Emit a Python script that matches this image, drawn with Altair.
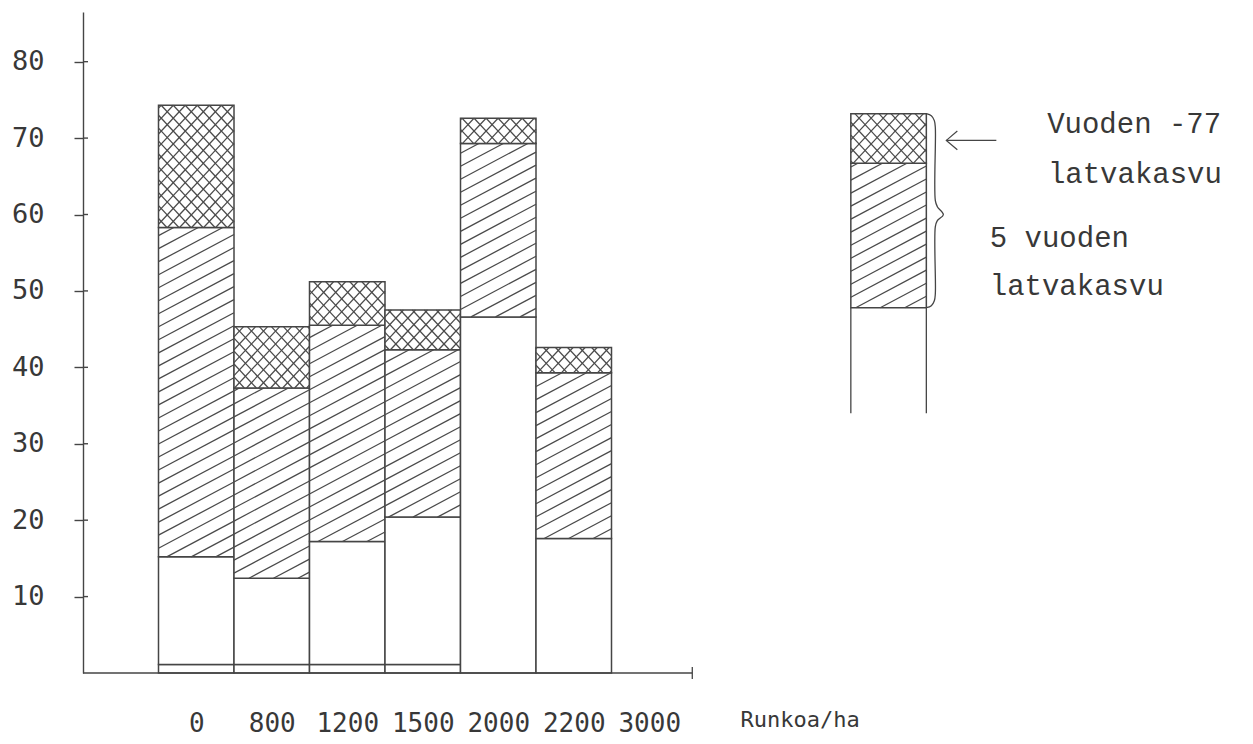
import math
import altair as alt
import pandas as pd

# ---------------- data ----------------
densities = ["0", "800", "1200", "1500", "2000", "2200", "3000"]
base_line = [1.1, 1.1, 1.1, 1.1, 0.0, 0.0, None]
open_top = [15.2, 12.4, 17.2, 20.4, 46.6, 17.6, None]
five_year_top = [58.3, 37.3, 45.5, 42.3, 69.3, 39.3, None]
total_top = [74.3, 45.3, 51.2, 47.5, 72.6, 42.6, None]
y_tick_values = [10, 20, 30, 40, 50, 60, 70, 80]
legend_levels = [34.0, 47.8, 66.7, 73.2]
legend_texts = ["Vuoden -77", "latvakasvu", "5 vuoden", "latvakasvu"]
x_title = "Runkoa/ha"

# ---------------- layout ----------------
W, H = 1160, 661
STEP = 75.5            # px per slot
YMAX = 86.5
XMAX = W / STEP
PYU = H / YMAX         # px per y unit
FIRST = 1.0            # first bar slot
AXIS_END = 8.07
LEG_X = 10.17
text_x = [12.77, 12.78, 12.01, 12.01]
text_y = [70.7, 64.1, 55.8, 49.5]
ARROW_Y = 69.7

LINE = "#454545"
TEXT = "#383838"
MONO = "DejaVu Sans Mono"
TYPE = "Liberation Mono"


def hatch(x0, x1, y0, y1, angle, spacing):
    X0, X1, Y0, Y1 = x0 * STEP, x1 * STEP, y0 * PYU, y1 * PYU
    th = math.radians(angle)
    dx, dy = math.cos(th), math.sin(th)
    nx, ny = -dy, dx
    cs = [X * nx + Y * ny for X in (X0, X1) for Y in (Y0, Y1)]
    out = []
    k = math.ceil(min(cs) / spacing - 0.5)
    while (k + 0.5) * spacing <= max(cs):
        c = (k + 0.5) * spacing
        bx, by = c * nx, c * ny
        lo, hi = -1e9, 1e9
        for b, d, a0, a1 in ((bx, dx, X0, X1), (by, dy, Y0, Y1)):
            if abs(d) > 1e-9:
                t1, t2 = (a0 - b) / d, (a1 - b) / d
                lo, hi = max(lo, min(t1, t2)), min(hi, max(t1, t2))
        if hi - lo > 1.0:
            out.append({"x": (bx + lo * dx) / STEP, "x2": (bx + hi * dx) / STEP,
                        "y": (by + lo * dy) / PYU, "y2": (by + hi * dy) / PYU})
        k += 1
    return out


rects, lines = [], []


def add_segment(x0, lo, hi, kind):
    rects.append({"x": x0, "x2": x0 + 1, "y": lo, "y2": hi, "kind": kind})
    if kind == "hatch":
        lines.extend(hatch(x0, x0 + 1, lo, hi, 28, 11.5))
    elif kind == "cross":
        lines.extend(hatch(x0, x0 + 1, lo, hi, 47, 8.8))
        lines.extend(hatch(x0, x0 + 1, lo, hi, 133, 8.8))


for i, cat in enumerate(densities):
    if total_top[i] is None:
        continue
    x0 = FIRST + i
    lv = [0.0, base_line[i], open_top[i], five_year_top[i], total_top[i]]
    kinds = ["stem", "open", "hatch", "cross"]
    for k in range(4):
        if lv[k + 1] > lv[k]:
            add_segment(x0, lv[k], lv[k + 1], kinds[k])

# legend bar
add_segment(LEG_X, legend_levels[1], legend_levels[2], "hatch")
add_segment(LEG_X, legend_levels[2], legend_levels[3], "cross")
legend_sides = pd.DataFrame([
    {"x": LEG_X, "y": legend_levels[0], "y2": legend_levels[1]},
    {"x": LEG_X + 1, "y": legend_levels[0], "y2": legend_levels[1]},
])

rect_df = pd.DataFrame(rects)
hatch_df = pd.DataFrame(lines)

xscale = alt.Scale(domain=[0, XMAX], nice=False, zero=False)
yscale = alt.Scale(domain=[0, YMAX], nice=False, zero=False)

label_expr = "[" + ",".join("'%s'" % d for d in densities) + "][round(datum.value - %s)]" % (FIRST + 0.5)

x_axis = alt.Axis(
    values=[FIRST + i + 0.5 for i in range(len(densities))],
    labelExpr=label_expr, domain=False, ticks=False, tickSize=0, grid=False,
    labelFont=MONO, labelFontSize=26, labelColor=TEXT, labelPadding=37,
    labelFlush=False, labelOverlap=False,
    title=x_title, titleX=657, titleY=53, titleAlign="left", titleBaseline="alphabetic",
    titleFont=MONO, titleFontSize=22, titleFontWeight="normal", titleColor=TEXT,
)
y_axis = alt.Axis(
    values=y_tick_values, title="", grid=False, tickSize=9, tickColor=LINE, tickWidth=1.4,
    domainColor=LINE, domainWidth=1.4, labelFont=MONO, labelFontSize=27,
    labelColor=TEXT, labelPadding=30,
)

X = alt.X("x:Q", scale=xscale)
Y = alt.Y("y:Q", scale=yscale)

bars = alt.Chart(rect_df).mark_rect(fill="white", stroke=LINE, strokeWidth=1.5).encode(
    x=alt.X("x:Q", scale=xscale, axis=x_axis),
    x2="x2:Q",
    y=alt.Y("y:Q", scale=yscale, axis=y_axis),
    y2="y2:Q",
)

hatches = alt.Chart(hatch_df).mark_rule(color="#4a4a4a", strokeWidth=1.25).encode(
    x=X, x2="x2:Q", y=Y, y2="y2:Q",
)

axis_line = alt.Chart(pd.DataFrame([{"x": 0.0, "x2": AXIS_END, "y": 0.0}])).mark_rule(
    color=LINE, strokeWidth=1.5).encode(x=X, x2="x2:Q", y=Y)
axis_end_tick = alt.Chart(pd.DataFrame([{"x": AXIS_END}])).mark_rule(
    color=LINE, strokeWidth=1.3).encode(x=X, y=alt.value(H - 6), y2=alt.value(H + 6))

tick_right = alt.Chart(pd.DataFrame({"y": y_tick_values})).mark_rule(
    color=LINE, strokeWidth=1.4).encode(y=Y, x=alt.value(0), x2=alt.value(5))

sides = alt.Chart(legend_sides).mark_rule(color=LINE, strokeWidth=1.3).encode(
    x=X, y=Y, y2="y2:Q")

# brace to the right of the legend bar (hatched + cross part)
top_v, bot_v = legend_levels[3], legend_levels[1]
hb = (top_v - bot_v) * PYU
brace_px = [(0, 0), (5, 2), (8, 7), (9, 14), (9, hb / 2 - 10), (11, hb / 2 - 4), (17, hb / 2 + 4),
            (11, hb / 2 + 10), (9, hb / 2 + 16), (9, hb - 14), (8, hb - 7), (5, hb - 2), (0, hb)]
brace_df = pd.DataFrame([
    {"x": LEG_X + 1 + dx / STEP, "y": top_v - dy / PYU, "o": i}
    for i, (dx, dy) in enumerate(brace_px)
])
brace = alt.Chart(brace_df).mark_line(color=LINE, strokeWidth=1.3, interpolate="catmull-rom").encode(
    x=X, y=Y, order="o:Q")

# arrow pointing to the cross-hatched part
tip_x = LEG_X + 1 + 20 / STEP
arrow_df = pd.DataFrame([{"x": tip_x, "x2": tip_x + 50 / STEP, "y": ARROW_Y, "hx": tip_x + 5.5 / STEP}])
arrow_shaft = alt.Chart(arrow_df).mark_rule(color=LINE, strokeWidth=1.2).encode(
    x=X, x2="x2:Q", y=Y)
arrow_head = alt.Chart(arrow_df).mark_point(
    shape="M1,-1.7L-1,0L1,1.7", size=121, filled=False, color=LINE, strokeWidth=1.2, opacity=1
).encode(x=alt.X("hx:Q", scale=xscale), y=Y)

text_df = pd.DataFrame({"t": legend_texts, "x": text_x, "y": text_y})
texts = alt.Chart(text_df).mark_text(
    align="left", baseline="alphabetic", font=TYPE, fontSize=29, color=TEXT
).encode(x=X, y=Y, text="t:N")

chart = alt.layer(
    bars, hatches, axis_line, axis_end_tick, tick_right, sides, brace, arrow_shaft, arrow_head, texts
).properties(
    width=W, height=H, autosize="none",
    padding={"left": 75, "top": 4, "right": 0, "bottom": 63},
    background="white",
).configure_view(stroke="transparent")

chart.save("out.html", embed_options={"renderer": "svg", "actions": False})
